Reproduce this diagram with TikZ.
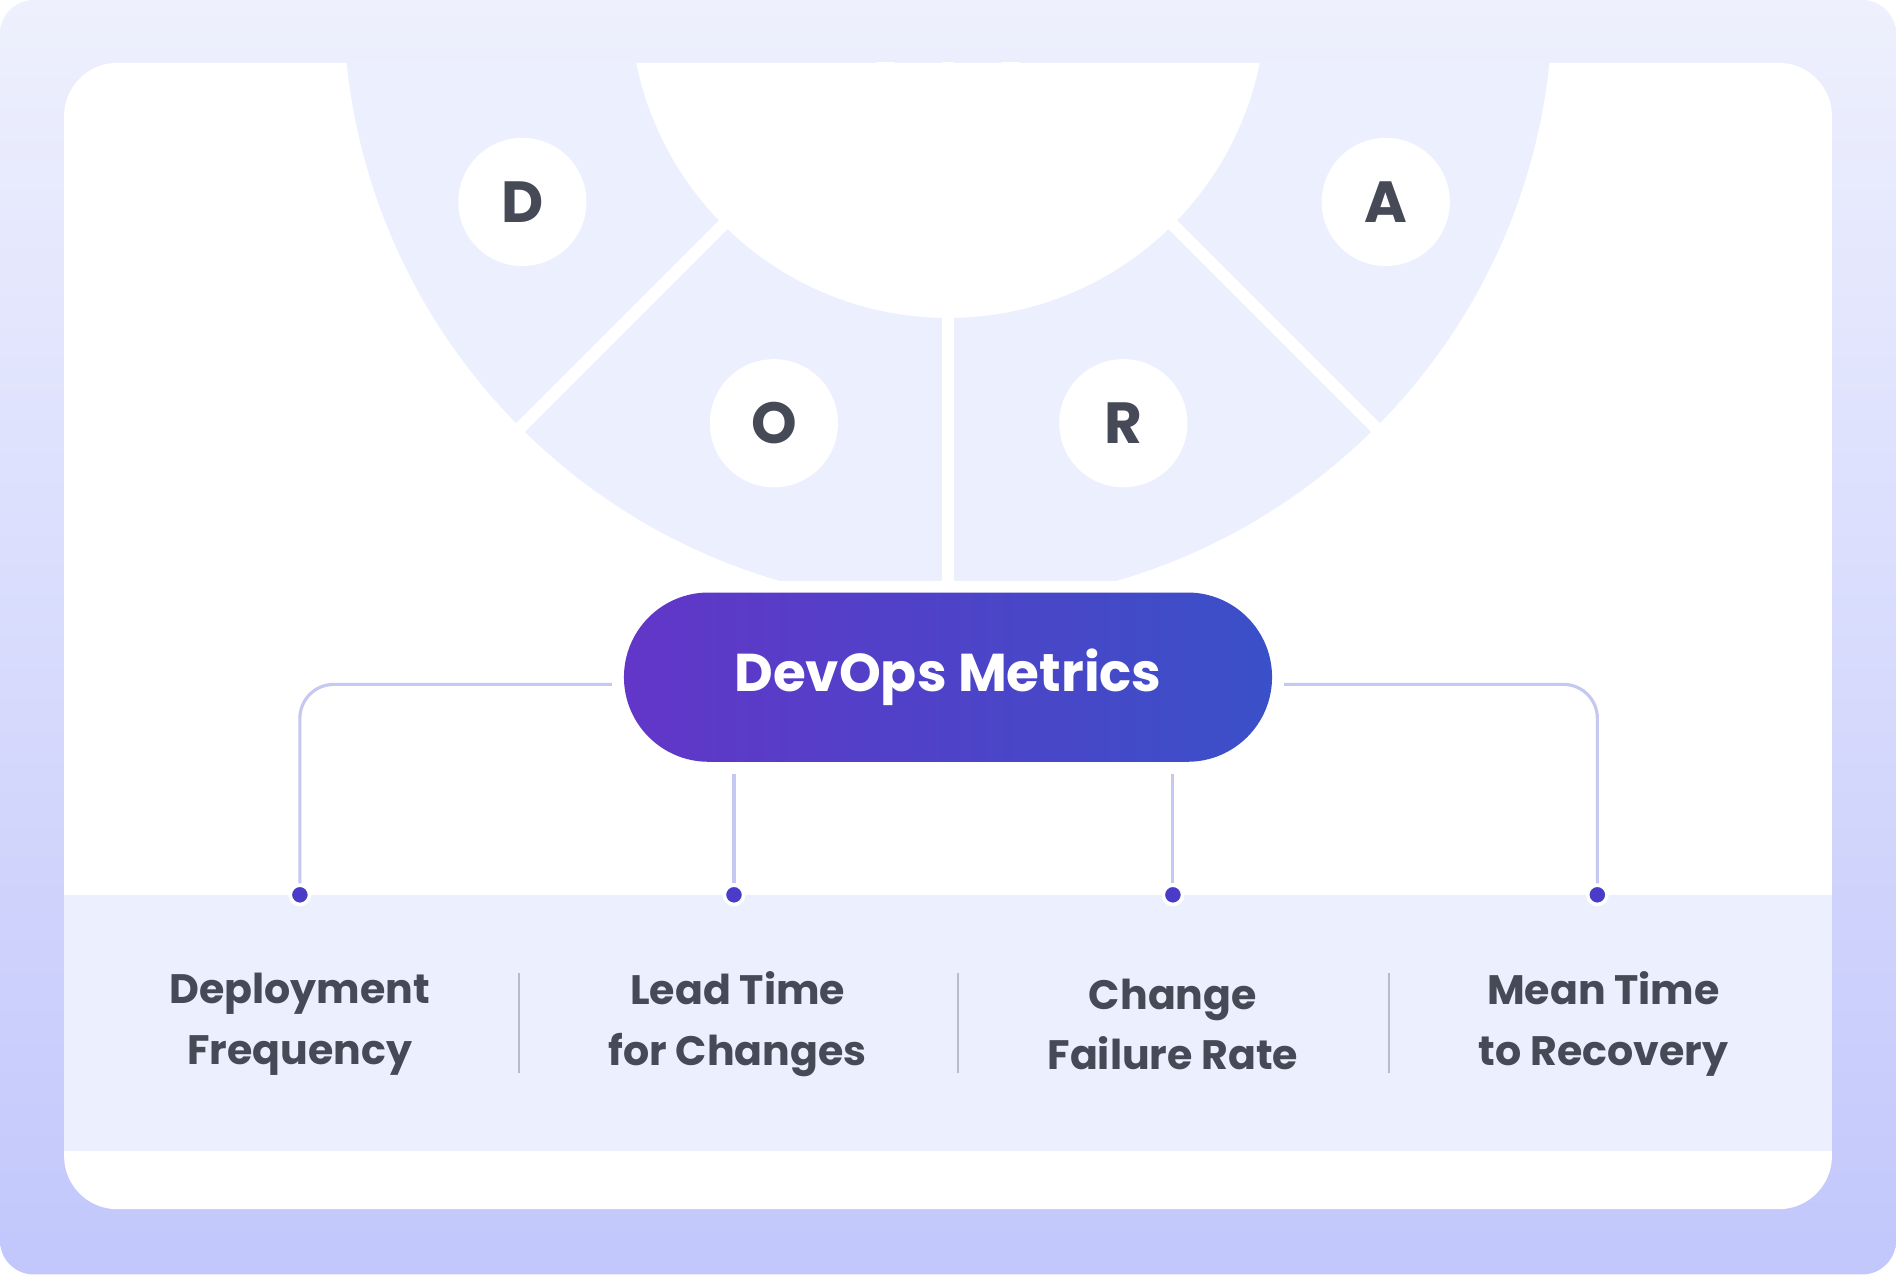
\documentclass[tikz,border=0pt]{standalone}
\usepackage{fontspec}
\setmainfont{Poppins}
\definecolor{bgtop}{HTML}{EEF0FD}
\definecolor{bgbot}{HTML}{C2C7FC}
\definecolor{band}{HTML}{ECEFFD}
\definecolor{ink}{HTML}{464A57}
\definecolor{conn}{HTML}{C5C8F0}
\definecolor{dotc}{HTML}{4A3CC8}
\definecolor{pl}{HTML}{6236C8}
\definecolor{pr}{HTML}{3A50C8}
\definecolor{sep}{HTML}{B8BCCB}
\begin{document}
\begin{tikzpicture}[x=0.5pt,y=-0.5pt,
  letter/.style={circle,fill=white,minimum size=53pt,inner sep=0pt,font=\fontsize{24}{24}\selectfont\bfseries,text=ink},
  connline/.style={draw=conn,line width=1.3pt,rounded corners=14pt},
  dotnode/.style={circle,fill=dotc,draw=white,line width=1.5pt,minimum size=8pt,inner sep=0pt},
  lab/.style={align=center,font=\fontsize{17}{25}\selectfont\bfseries,text=ink},
  sepline/.style={draw=sep,line width=0.9pt}]
\useasboundingbox (0,0) rectangle (1568,1054);
\shade[top color=bgtop,bottom color=bgbot,rounded corners=14pt] (0,0) rectangle (1568,1054);
\fill[white,rounded corners=22pt] (53,52) rectangle (1515,1000);
\fill[band] (53,740) rectangle (1515,952);
\begin{scope}
\clip (0,52) rectangle (1568,480);
\fill[band,even odd rule] (784,0) circle (500) (784,0) circle (263);
\draw[white,line width=5pt] (784,0) -- (784,520);
\draw[white,line width=5pt] (784,0) -- (404,380);
\draw[white,line width=5pt] (784,0) -- (1164,380);
\end{scope}
\node[letter] (D) at (432,167) {D};
\node[letter] (O) at (640,350) {O};
\node[letter] (R) at (929,350) {R};
\node[letter] (A) at (1146,167) {A};
\node[minimum width=268pt,minimum height=70pt,rounded corners=35pt,left color=pl,right color=pr,text=white,font=\fontsize{22}{22}\selectfont\bfseries] (pill) at (784,560) {DevOps Metrics};
\node[dotnode] (d1) at (248,740) {};
\node[dotnode] (d2) at (607,740) {};
\node[dotnode] (d3) at (970,740) {};
\node[dotnode] (d4) at (1321,740) {};
\coordinate (a1) at (506,566);
\coordinate (a2) at (607,640);
\coordinate (a3) at (970,640);
\coordinate (a4) at (1062,566);
\draw[connline] (a1) -- (248,566) -- (d1.north);
\draw[connline] (a2) -- (d2.north);
\draw[connline] (a3) -- (d3.north);
\draw[connline] (a4) -- (1321,566) -- (d4.north);
\node[lab] (l1) at (248,847) {Deployment\\Frequency};
\node[lab] (l2) at (610,847) {Lead Time\\for Changes};
\node[lab] (l3) at (970,847) {Change\\Failure Rate};
\node[lab] (l4) at (1326,847) {Mean Time\\to Recovery};
\coordinate (s1a) at (429,805); \coordinate (s1b) at (429,887);
\coordinate (s2a) at (792,805); \coordinate (s2b) at (792,887);
\coordinate (s3a) at (1149,805); \coordinate (s3b) at (1149,887);
\draw[sepline] (s1a) -- (s1b);
\draw[sepline] (s2a) -- (s2b);
\draw[sepline] (s3a) -- (s3b);
\end{tikzpicture}
\end{document}
